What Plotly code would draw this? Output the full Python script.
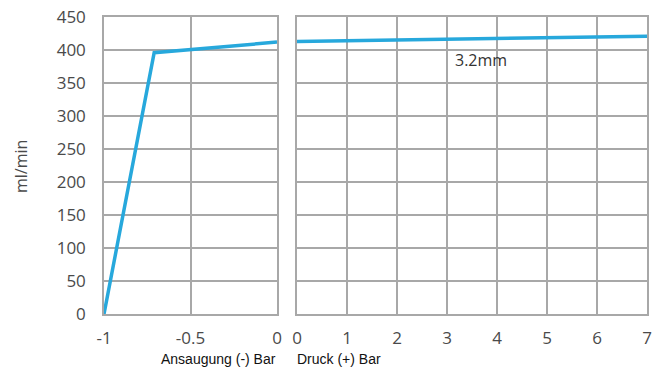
import plotly.graph_objects as go

# Data
suction_x = [-1.0, -0.71, 0.0]
suction_y = [0, 396, 412]
pressure_x = [0, 7]
pressure_y = [413, 421]
y_ticks = [0, 50, 100, 150, 200, 250, 300, 350, 400, 450]
left_ticks = [-1, -0.5, 0]
left_labels = ["-1", "-0.5", "0"]
right_ticks = [0, 1, 2, 3, 4, 5, 6, 7]
series_label = "3.2mm"

W, H = 654, 377
LINE = "#27a8dc"
GRID = "#a8a8a8"
TICKFONT = dict(family="Open Sans, DejaVu Sans, sans-serif", size=17, color="#4a4a4a")

fig = go.Figure()
fig.add_trace(go.Scatter(x=suction_x, y=suction_y, mode="lines",
                         line=dict(color=LINE, width=3.5), xaxis="x", yaxis="y",
                         showlegend=False, hoverinfo="skip"))
fig.add_trace(go.Scatter(x=pressure_x, y=pressure_y, mode="lines",
                         line=dict(color=LINE, width=3.5), xaxis="x2", yaxis="y2",
                         showlegend=False, hoverinfo="skip"))

ydom = [(H - 314) / H, (H - 17) / H]
common_x = dict(showgrid=True, gridcolor=GRID, gridwidth=1.5, showline=True,
                linecolor=GRID, linewidth=1.5, mirror=True, zeroline=False,
                ticks="outside", ticklen=8, tickcolor="rgba(0,0,0,0)",
                tickfont=TICKFONT, automargin=False, fixedrange=True)
fig.update_layout(
    width=W, height=H,
    margin=dict(l=0, r=0, t=0, b=0),
    paper_bgcolor="white", plot_bgcolor="white",
    xaxis=dict(domain=[104 / W, 277 / W], range=[-1, 0], tickvals=left_ticks,
               ticktext=left_labels, anchor="y", **common_x),
    xaxis2=dict(domain=[297 / W, 647 / W], range=[0, 7], tickvals=right_ticks,
                anchor="y2", **common_x),
    yaxis=dict(domain=ydom, range=[0, 450], tickvals=y_ticks, showgrid=True,
               gridcolor=GRID, gridwidth=1.5, showline=True, linecolor=GRID,
               linewidth=1.5, mirror=True, zeroline=False, ticks="outside",
               ticklen=13, tickcolor="rgba(0,0,0,0)", tickfont=TICKFONT,
               automargin=False, anchor="x", fixedrange=True),
    yaxis2=dict(domain=ydom, range=[0, 450], tickvals=y_ticks, showgrid=True,
                gridcolor=GRID, gridwidth=1.5, showline=True, linecolor=GRID,
                linewidth=1.5, mirror=True, zeroline=False, showticklabels=False,
                automargin=False, anchor="x2", fixedrange=True),
    annotations=[
        dict(text="ml/min", x=21 / W, y=(H - 167) / H, xref="paper", yref="paper",
             xanchor="center", yanchor="middle", textangle=-90, showarrow=False,
             font=dict(family="Open Sans, DejaVu Sans, sans-serif", size=16, color="#4a4a4a")),
        dict(text="Ansaugung (-) Bar", x=278 / W, y=(H - 359) / H, xref="paper", yref="paper",
             xanchor="right", yanchor="middle", showarrow=False,
             font=dict(family="Arial, Liberation Sans, sans-serif", size=14, color="#111")),
        dict(text="Druck (+) Bar", x=295 / W, y=(H - 359) / H, xref="paper", yref="paper",
             xanchor="left", yanchor="middle", showarrow=False,
             font=dict(family="Arial, Liberation Sans, sans-serif", size=14, color="#111")),
        dict(text=series_label, x=3.68, y=385, xref="x2", yref="y2", showarrow=False,
             font=dict(family="Open Sans, DejaVu Sans, sans-serif", size=16, color="#333")),
    ],
)

fig.write_html("out.html", config={"displayModeBar": False},
               post_script="document.body.style.margin='0';document.body.style.overflow='hidden';")
